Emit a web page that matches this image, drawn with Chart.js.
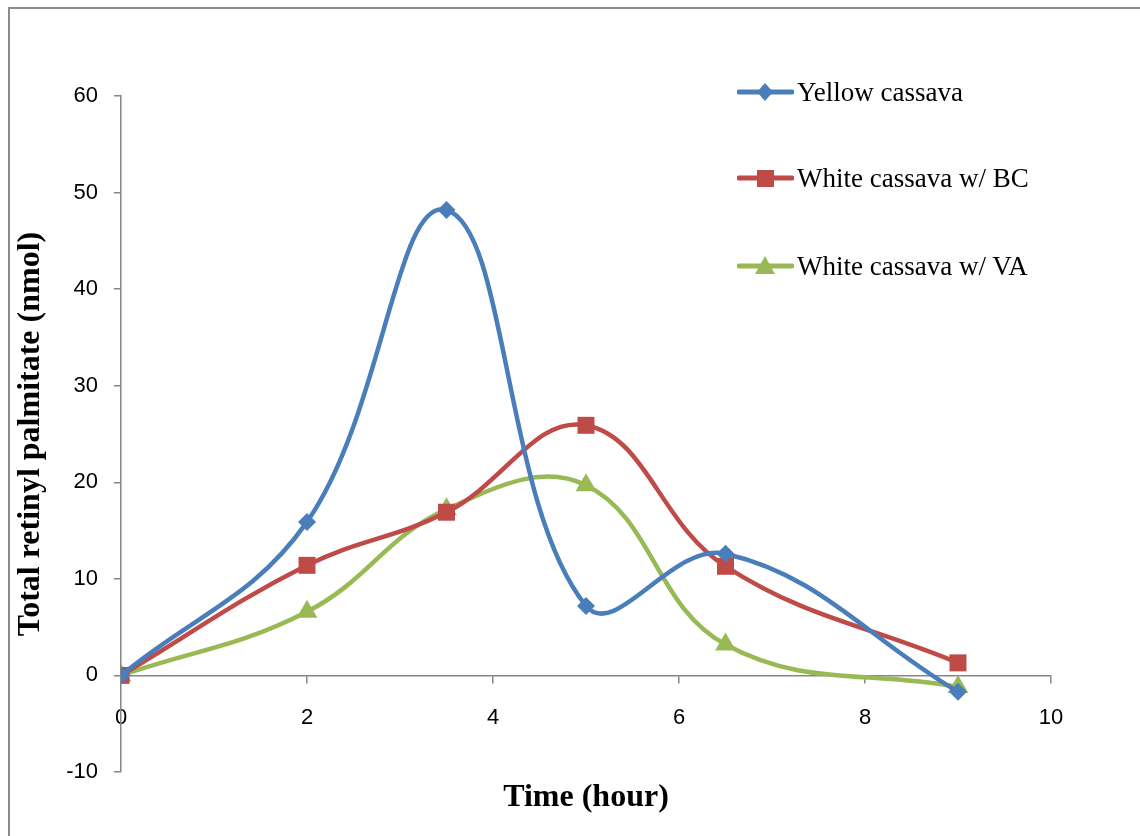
<!DOCTYPE html>
<html>
<head>
<meta charset="utf-8">
<script src="https://cdn.jsdelivr.net/npm/chart.js@4.4.1/dist/chart.umd.min.js"></script>
<style>
  html, body { margin: 0; padding: 0; background: #fff; overflow: hidden; }
  #wrap { position: relative; width: 1140px; height: 836px; }
  #frame { position: absolute; left: 8px; top: 7px; width: 1160px; height: 860px; border: 2px solid #8c8c8c; box-sizing: border-box; }
  #chart { position: absolute; left: 0; top: 0; }
  .xtitle { position: absolute; left: 586px; top: 777px; transform: translateX(-50%); font: bold 32px "Liberation Serif", "Times New Roman", serif; color: #000; white-space: nowrap; }
  .legend { position: absolute; left: 737px; font: 27px "Liberation Serif", "Times New Roman", serif; color: #000; }
  .legend .item { position: absolute; left: 0; height: 30px; display: flex; align-items: center; white-space: nowrap; }
  .legend svg { margin-right: 3px; }
</style>
</head>
<body>
<div id="wrap">
  <div id="frame"></div>
  <canvas id="chart" width="1140" height="836"></canvas>
  <div class="xtitle">Time (hour)</div>
  <div class="legend" id="legend"></div>
</div>
<script>
// data
const timeHours = [0, 2, 3.5, 5, 6.5, 9];
const yellowCassava = [0, 15.9, 48.2, 7.2, 12.6, -1.7];
const whiteCassavaBC = [0, 11.4, 16.9, 25.9, 11.3, 1.3];
const whiteCassavaVA = [0, 6.6, 17.2, 19.7, 3.2, -1.2];

const seriesNames = ["Yellow cassava", "White cassava w/ BC", "White cassava w/ VA"];
const seriesColors = ["#4a7ebb", "#be4b48", "#98b954"];
const seriesMarkers = ["rectRot", "rect", "triangle"];
const markerRadius = [9, 12, 12];

const xTicks = [0, 2, 4, 6, 8, 10];
const yTicks = [-10, 0, 10, 20, 30, 40, 50, 60];

const axisGrey = "#868686";
const tickFont = { family: "'Liberation Sans', Arial, sans-serif", size: 22 };

function toPoints(ys){ return timeHours.map((x, i) => ({ x, y: ys[i] })); }

const allSeries = [yellowCassava, whiteCassavaBC, whiteCassavaVA];
const datasets = allSeries.map((ys, i) => ({
  label: seriesNames[i],
  data: toPoints(ys),
  borderColor: seriesColors[i],
  backgroundColor: seriesColors[i],
  borderWidth: 4.5,
  pointStyle: seriesMarkers[i],
  pointRadius: markerRadius[i],
  pointBorderWidth: 0,
  pointBackgroundColor: seriesColors[i],
  tension: 0.4,
  cubicInterpolationMode: "default",
  fill: false
}));

new Chart(document.getElementById("chart").getContext("2d"), {
  type: "line",
  data: { datasets },
  options: {
    responsive: false,
    animation: false,
    devicePixelRatio: 1,
    layout: { padding: { left: 10, right: 89, top: 96, bottom: 64 } },
    plugins: { legend: { display: false }, tooltip: { enabled: false } },
    scales: {
      x: {
        type: "linear",
        position: { y: 0 },
        min: 0, max: 10,
        afterBuildTicks: s => { s.ticks = xTicks.map(v => ({ value: v })); },
        ticks: { color: "#000", font: tickFont, padding: 22, maxRotation: 0 },
        grid: { drawOnChartArea: false, drawTicks: true, tickLength: 7, color: axisGrey, lineWidth: 1.5 },
        border: { color: axisGrey, width: 1.5 }
      },
      y: {
        type: "linear",
        min: -10, max: 60,
        afterBuildTicks: s => { s.ticks = yTicks.map(v => ({ value: v })); },
        afterFit: s => { s.width = 111; },
        ticks: { color: "#000", font: tickFont, padding: 16 },
        grid: { drawOnChartArea: false, drawTicks: true, tickLength: 7, color: axisGrey, lineWidth: 1.5 },
        border: { color: axisGrey, width: 1.5 },
        title: {
          display: true,
          text: "Total retinyl palmitate (nmol)",
          color: "#000",
          font: { family: "'Liberation Serif', 'Times New Roman', serif", size: 32, weight: "bold" },
          padding: { top: 2, bottom: 0 }
        }
      }
    }
  }
});

// legend: line sample with marker, drawn beside each name
const legendTops = [77, 163, 251];
const legendEl = document.getElementById("legend");
seriesNames.forEach((name, i) => {
  const c = seriesColors[i];
  let marker;
  if (seriesMarkers[i] === "rectRot") marker = `<polygon points="28,6 36,15 28,24 20,15" fill="${c}"/>`;
  else if (seriesMarkers[i] === "rect") marker = `<rect x="20" y="7" width="17" height="17" fill="${c}"/>`;
  else marker = `<polygon points="28,5 38,23 18,23" fill="${c}"/>`;
  const item = document.createElement("div");
  item.className = "item";
  item.style.top = legendTops[i] + "px";
  item.innerHTML = `<svg width="57" height="30"><line x1="2" y1="15" x2="55" y2="15" stroke="${c}" stroke-width="5" stroke-linecap="round"/>${marker}</svg><span>${name}</span>`;
  legendEl.appendChild(item);
});
</script>
</body>
</html>
